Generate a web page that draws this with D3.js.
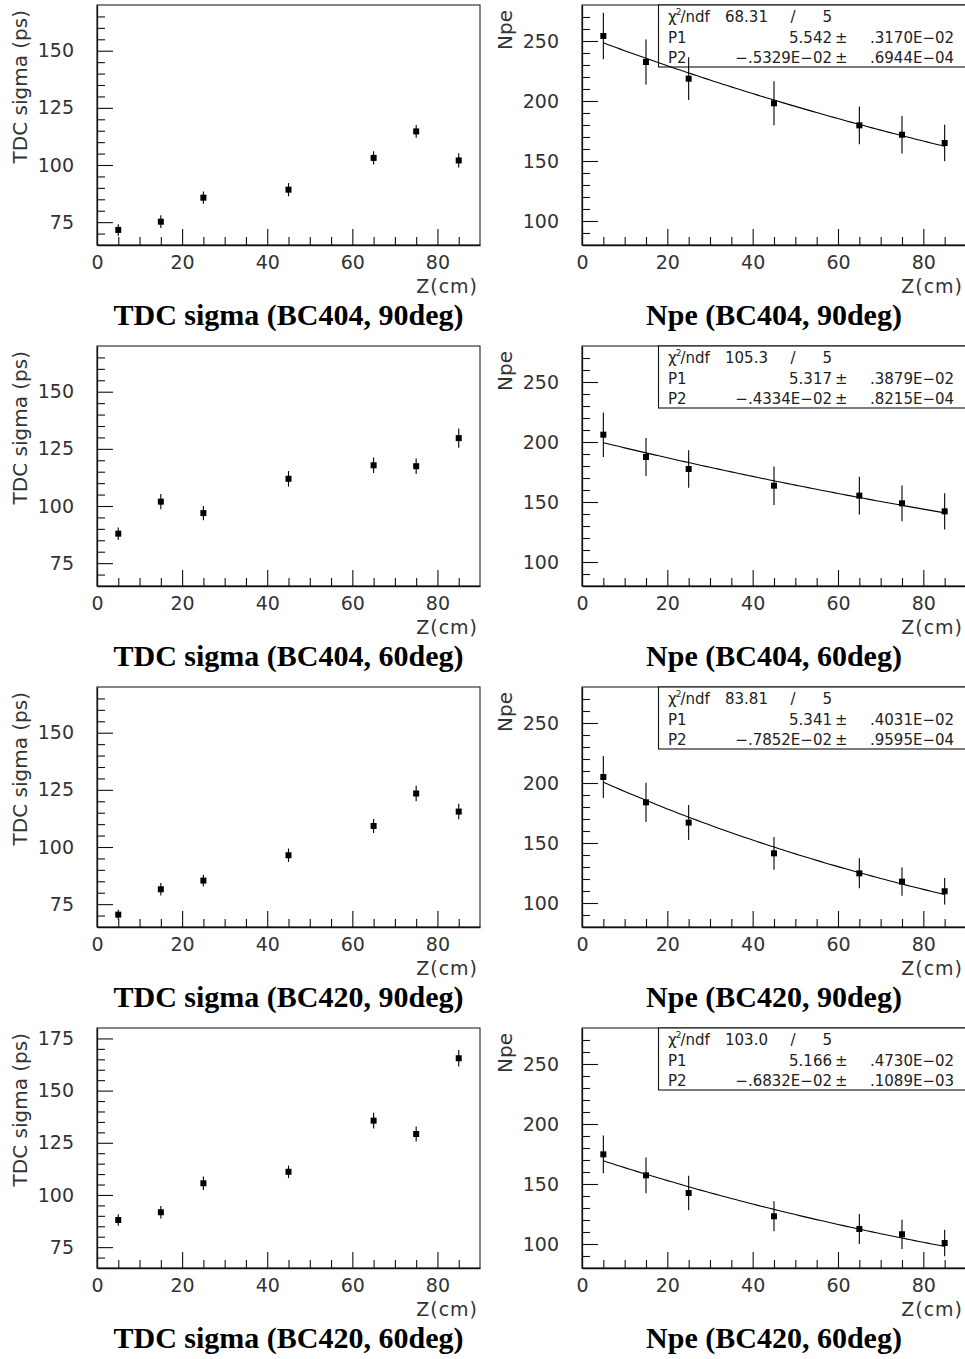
<!DOCTYPE html>
<html>
<head>
<meta charset="utf-8">
<script src="https://cdn.jsdelivr.net/npm/d3@7"></script>
<style>
  html, body { margin: 0; padding: 0; background: #fff; }
  svg { display: block; }
  .tick text { font-family: "DejaVu Sans", sans-serif; }
</style>
</head>
<body>
<svg id="chart" width="965" height="1359"></svg>
<script>
// Beam positions along the bar (cm)
const zPos = [5, 15, 25, 45, 65, 75, 85];

// Panel titles per row
const tdcTitles = ["TDC sigma (BC404, 90deg)", "TDC sigma (BC404, 60deg)", "TDC sigma (BC420, 90deg)", "TDC sigma (BC420, 60deg)"];
const npeTitles = ["Npe (BC404, 90deg)", "Npe (BC404, 60deg)", "Npe (BC420, 90deg)", "Npe (BC420, 60deg)"];

// TDC time resolution (ps) and errors
const tdcBC404deg90 = [71.6, 75.2, 85.7, 89.2, 103.1, 114.7, 102.0];
const tdcErrBC404deg90 = [2.5, 2.8, 2.7, 2.9, 2.9, 2.8, 3.1];
const tdcBC404deg60 = [87.9, 101.9, 96.9, 111.9, 117.8, 117.4, 129.7];
const tdcErrBC404deg60 = [2.7, 3.3, 3.1, 3.4, 3.4, 3.4, 4.2];
const tdcBC420deg90 = [70.4, 81.5, 85.3, 96.4, 109.2, 123.4, 115.5];
const tdcErrBC420deg90 = [2.2, 2.7, 2.6, 2.9, 3.1, 3.4, 3.4];
const tdcBC420deg60 = [88.0, 91.7, 105.6, 111.1, 135.6, 129.2, 165.5];
const tdcErrBC420deg60 = [2.8, 3.0, 3.2, 3.0, 3.8, 3.6, 4.0];

// Number of photoelectrons and errors
const npeBC404deg90 = [254.2, 232.5, 218.6, 198.1, 179.7, 171.9, 165.0];
const npeErrBC404deg90 = [19.4, 18.7, 17.8, 18.3, 15.8, 15.7, 15.3];
const npeBC404deg60 = [206.1, 187.5, 177.5, 163.6, 155.3, 148.9, 142.2];
const npeErrBC404deg60 = [18.5, 15.8, 15.7, 16.0, 15.7, 14.9, 15.1];
const npeBC420deg90 = [205.0, 183.9, 167.0, 141.4, 124.7, 117.8, 109.8];
const npeErrBC420deg90 = [17.4, 16.4, 14.6, 13.6, 12.5, 11.8, 11.1];
const npeBC420deg60 = [174.7, 157.2, 142.5, 123.1, 112.5, 108.1, 100.8];
const npeErrBC420deg60 = [15.7, 14.9, 14.3, 12.5, 12.5, 12.2, 11.1];

// Exponential fit Npe = exp(P1 + P2*z)
const fitChi2 = ["68.31", "105.3", "83.81", "103.0"];
const fitNdf = [5, 5, 5, 5];
const fitP1 = [5.542, 5.317, 5.341, 5.166];
const fitP1Err = [0.3170e-02, 0.3879e-02, 0.4031e-02, 0.4730e-02];
const fitP2 = [-0.5329e-02, -0.4334e-02, -0.7852e-02, -0.6832e-02];
const fitP2Err = [0.6944e-04, 0.8215e-04, 0.9595e-04, 0.1089e-03];

// Axis ranges and tick values
const xDomain = [0, 90];
const xMajorTicks = [0, 20, 40, 60, 80];
const tdcDomains = [[65, 170], [65, 170], [65, 170], [65, 180]];
const tdcMajorTicks = [[75, 100, 125, 150], [75, 100, 125, 150], [75, 100, 125, 150], [75, 100, 125, 150, 175]];
const npeDomain = [80, 280];
const npeMajorTicks = [100, 150, 200, 250];

const tdcRows = [
  [tdcBC404deg90, tdcErrBC404deg90],
  [tdcBC404deg60, tdcErrBC404deg60],
  [tdcBC420deg90, tdcErrBC420deg90],
  [tdcBC420deg60, tdcErrBC420deg60]
];
const npeRows = [
  [npeBC404deg90, npeErrBC404deg90],
  [npeBC404deg60, npeErrBC404deg60],
  [npeBC420deg90, npeErrBC420deg90],
  [npeBC420deg60, npeErrBC420deg60]
];

// ---- layout ----
const rowTop0 = 5, rowStep = 341, frameH = 240;
const leftCol = { x0: 97, x1: 480 };
const rightCol = { x0: 582, x1: 966 };
const sansFont = '"DejaVu Sans", sans-serif';
const serifFont = '"Liberation Serif", "Times New Roman", serif';
const inkText = "#333";

const svg = d3.select("#chart");

// PAW style number format: -.5329E-02
function pawExp(v) {
  const a = Math.abs(v);
  const e = Math.floor(Math.log10(a)) + 1;
  const m = a / Math.pow(10, e);
  const ms = m.toFixed(4).replace(/^0/, "");
  const es = (e < 0 ? "\u2212" : "+") + String(Math.abs(e)).padStart(2, "0");
  return (v < 0 ? "\u2212" : "") + ms + "E" + es;
}

function drawPanel(opt) {
  const g = svg.append("g");
  const { x0, x1, top, bottom } = opt;
  const x = d3.scaleLinear().domain(xDomain).range([x0, x1]);
  const y = d3.scaleLinear().domain(opt.yDomain).range([bottom, top]);

  // frame
  g.append("rect")
    .attr("x", x0).attr("y", top)
    .attr("width", x1 - x0).attr("height", bottom - top)
    .attr("fill", "none").attr("stroke", "#222").attr("stroke-width", 1.1);

  // stats box (under the data)
  if (opt.stats) opt.stats(g, x0, top);

  // x axis: major + minor ticks, pointing inward
  const xMinor = d3.range(5, 90, 5).filter(v => !xMajorTicks.includes(v));
  const xa = g.append("g").attr("transform", `translate(0,${bottom})`)
    .call(d3.axisBottom(x).tickValues(xMajorTicks).tickSizeInner(-16).tickSizeOuter(0).tickPadding(11));
  xa.select(".domain").attr("stroke", "#111").attr("stroke-width", 1.3);
  xa.selectAll(".tick line").attr("stroke", "#111").attr("stroke-width", 1.1);
  xa.selectAll(".tick text").attr("font-size", 19).attr("fill", inkText);
  g.append("g").attr("transform", `translate(0,${bottom})`)
    .call(d3.axisBottom(x).tickValues(xMinor).tickSizeInner(-8).tickSizeOuter(0).tickFormat(""))
    .call(s => s.select(".domain").remove())
    .selectAll(".tick line").attr("stroke", "#111").attr("stroke-width", 1.1);

  // y axis
  const [d0, d1] = opt.yDomain;
  const yMinor = d3.range(d0 + opt.yMinorStep, d1, opt.yMinorStep).filter(v => !opt.yMajor.includes(v));
  const ya = g.append("g").attr("transform", `translate(${x0},0)`)
    .call(d3.axisLeft(y).tickValues(opt.yMajor).tickSizeInner(-16).tickSizeOuter(0).tickPadding(23));
  ya.select(".domain").attr("stroke", "#111").attr("stroke-width", 1.3);
  ya.selectAll(".tick line").attr("stroke", "#111").attr("stroke-width", 1.1);
  ya.selectAll(".tick text").attr("font-size", 19).attr("fill", inkText);
  g.append("g").attr("transform", `translate(${x0},0)`)
    .call(d3.axisLeft(y).tickValues(yMinor).tickSizeInner(-8).tickSizeOuter(0).tickFormat(""))
    .call(s => s.select(".domain").remove())
    .selectAll(".tick line").attr("stroke", "#111").attr("stroke-width", 1.1);

  // axis titles
  g.append("text")
    .attr("transform", `translate(${x0 - 70},${top + 5}) rotate(-90)`)
    .attr("text-anchor", "end")
    .attr("font-family", sansFont).attr("font-size", 20).attr("fill", inkText)
    .text(opt.yTitle);
  g.append("text")
    .attr("x", Math.min(x1, 965) - 2).attr("y", bottom + 48)
    .attr("text-anchor", "end")
    .attr("font-family", sansFont).attr("font-size", 19).attr("fill", inkText)
    .attr("letter-spacing", 1)
    .text("Z(cm)");

  // fit curve
  if (opt.fit) {
    const zs = d3.range(5, 85.01, 1);
    g.append("path")
      .datum(zs)
      .attr("fill", "none").attr("stroke", "#000").attr("stroke-width", 1.1)
      .attr("d", d3.line().x(z => x(z)).y(z => y(Math.exp(opt.fit[0] + opt.fit[1] * z))));
  }

  // error bars and markers
  const pts = zPos.map((z, i) => ({ z, v: opt.values[i], e: opt.errors[i] }));
  g.append("g").selectAll("line").data(pts).join("line")
    .attr("x1", d => x(d.z)).attr("x2", d => x(d.z))
    .attr("y1", d => y(d.v - d.e)).attr("y2", d => y(d.v + d.e))
    .attr("stroke", "#000").attr("stroke-width", 1.1);
  g.append("g").selectAll("rect").data(pts).join("rect")
    .attr("x", d => x(d.z) - 3).attr("y", d => y(d.v) - 3)
    .attr("width", 6).attr("height", 6).attr("fill", "#000");

  // panel title
  g.append("text")
    .attr("x", (x0 + x1) / 2).attr("y", bottom + 80)
    .attr("text-anchor", "middle")
    .attr("font-family", serifFont).attr("font-weight", "bold").attr("font-size", 30).attr("fill", "#000")
    .text(opt.title);
}

function statsBox(row) {
  return (g, x0, top) => {
    const bx = 658.5, bw = 320, bh = 62;
    g.append("rect").attr("x", bx).attr("y", top).attr("width", bw).attr("height", bh)
      .attr("fill", "#fff").attr("stroke", "#111").attr("stroke-width", 1.1);
    const t = g.append("g").attr("font-family", sansFont).attr("font-size", 15).attr("fill", "#222");
    const lx = 668, vx = 832, pmx = 835, ex = 870;
    const l1 = top + 17, l2 = top + 37.5, l3 = top + 57.5;
    const chi = t.append("text").attr("x", lx).attr("y", l1);
    chi.append("tspan").text("\u03C7");
    chi.append("tspan").attr("dx", -1).attr("dy", -7).attr("font-size", 9).text("2");
    chi.append("tspan").attr("dx", -1).attr("dy", 7).text("/ndf");
    t.append("text").attr("x", 725).attr("y", l1).text(fitChi2[row]);
    t.append("text").attr("x", 793).attr("y", l1).attr("text-anchor", "middle").text("/");
    t.append("text").attr("x", vx).attr("y", l1).attr("text-anchor", "end").text(fitNdf[row]);
    t.append("text").attr("x", lx).attr("y", l2).text("P1");
    t.append("text").attr("x", vx).attr("y", l2).attr("text-anchor", "end").text(fitP1[row].toFixed(3));
    t.append("text").attr("x", pmx).attr("y", l2).text("\u00B1");
    t.append("text").attr("x", ex).attr("y", l2).text(pawExp(fitP1Err[row]));
    t.append("text").attr("x", lx).attr("y", l3).text("P2");
    t.append("text").attr("x", vx).attr("y", l3).attr("text-anchor", "end").text(pawExp(fitP2[row]));
    t.append("text").attr("x", pmx).attr("y", l3).text("\u00B1");
    t.append("text").attr("x", ex).attr("y", l3).text(pawExp(fitP2Err[row]));
  };
}

for (let r = 0; r < 4; r++) {
  const top = rowTop0 + r * rowStep;
  const bottom = top + frameH;
  drawPanel({
    x0: leftCol.x0, x1: leftCol.x1, top, bottom,
    yDomain: tdcDomains[r], yMajor: tdcMajorTicks[r], yMinorStep: 5,
    yTitle: "TDC sigma (ps)", title: tdcTitles[r],
    values: tdcRows[r][0], errors: tdcRows[r][1]
  });
  drawPanel({
    x0: rightCol.x0, x1: rightCol.x1, top, bottom,
    yDomain: npeDomain, yMajor: npeMajorTicks, yMinorStep: 10,
    yTitle: "Npe", title: npeTitles[r],
    values: npeRows[r][0], errors: npeRows[r][1],
    fit: [fitP1[r], fitP2[r]], stats: statsBox(r)
  });
}
</script>
</body>
</html>
